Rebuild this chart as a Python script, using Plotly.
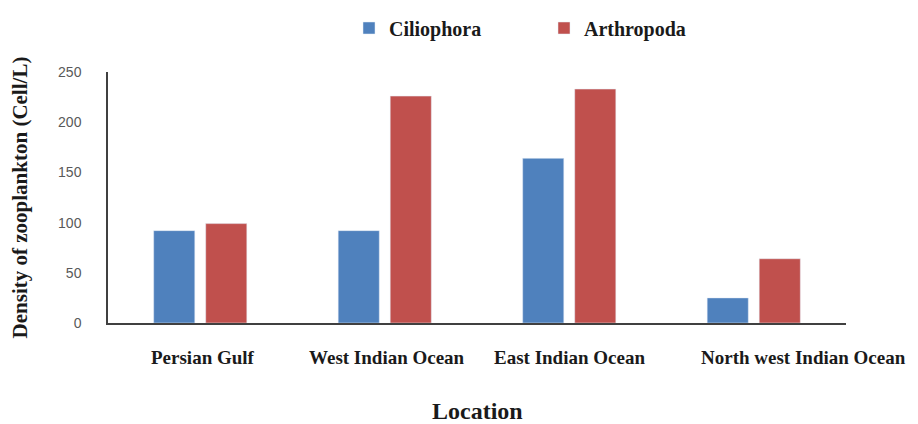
import plotly.graph_objects as go

locations = ["Persian Gulf", "West Indian Ocean", "East Indian Ocean", "North west Indian Ocean"]
ciliophora = [92, 92, 164, 25]
arthropoda = [99, 226, 233, 64]
y_ticks = [0, 50, 100, 150, 200, 250]

serif = "Liberation Serif"
OFF = 8  # page body offset
label_shift = [3, 2, 0, 50]  # horizontal nudge of category labels in the reference

fig = go.Figure()
fig.add_trace(go.Bar(name="Ciliophora", x=locations, y=ciliophora, marker_color="#4F81BD"))
fig.add_trace(go.Bar(name="Arthropoda", x=locations, y=arthropoda, marker_color="#C0504D"))

for i, (loc, dx) in enumerate(zip(locations, label_shift)):
    fig.add_annotation(
        x=i, y=0, xref="x", yref="y", text=loc, showarrow=False,
        xanchor="center", yanchor="middle", xshift=dx, yshift=-34,
        font=dict(family=serif, size=19, color="#1a1a1a", weight="bold"),
    )

fig.add_annotation(
    x=0.5, y=0, xref="paper", yref="paper", text="Location", showarrow=False,
    xanchor="center", yanchor="middle", yshift=-88,
    font=dict(family=serif, size=24, color="#1a1a1a", weight="bold"),
)

fig.update_layout(
    width=918, height=424,
    margin=dict(l=108 - OFF, r=72 + OFF, t=72 - OFF, b=101 + OFF),
    paper_bgcolor="white", plot_bgcolor="white",
    barmode="group", bargap=0.436, bargroupgap=0.21,
    showlegend=True,
    legend=dict(
        orientation="h", xref="container", yref="container",
        x=(349 - OFF) / 918, y=1 - (28 - OFF) / 424, xanchor="left", yanchor="middle",
        entrywidth=150, entrywidthmode="pixels",
        font=dict(family=serif, size=20, color="#1a1a1a", weight="bold"),
        bgcolor="rgba(0,0,0,0)",
    ),
    xaxis=dict(
        automargin=False, showticklabels=False,
        type="category", categoryorder="array", categoryarray=locations,
        range=[-0.5, len(locations) - 0.5],
        showline=True, linecolor="#404040", linewidth=1.5,
        ticks="", showgrid=False,
    ),
    yaxis=dict(
        automargin=False,
        range=[0, 250], tickvals=y_ticks,
        showline=True, linecolor="#404040", linewidth=1.5,
        ticks="", showgrid=False, zeroline=False,
        tickfont=dict(family="Liberation Sans", size=14, color="#595959"),
        ticklabelstandoff=22,
        title=dict(text="Density of zooplankton (Cell/L)", font=dict(family=serif, size=21, color="#1a1a1a", weight="bold"), standoff=29),
    ),
)

fig.write_html("out.html")
